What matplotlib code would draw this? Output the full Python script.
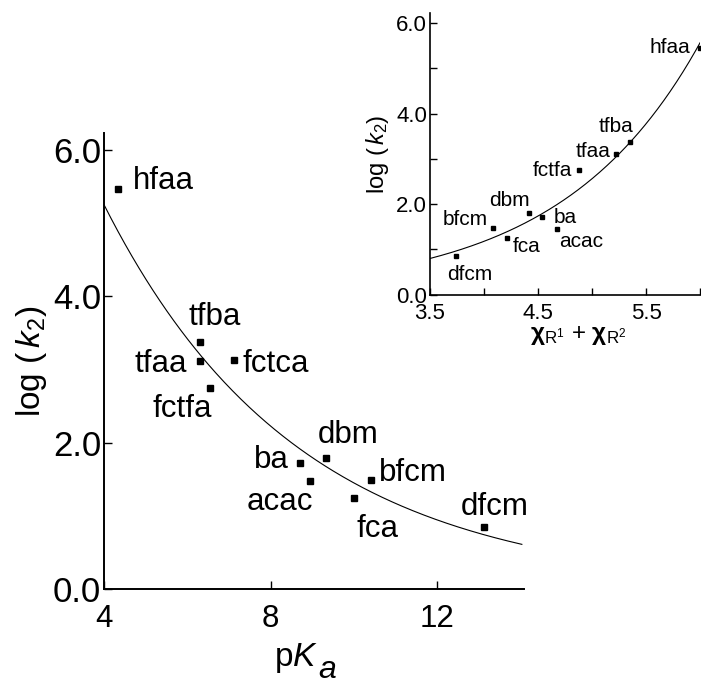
import numpy as np
import matplotlib
matplotlib.use("Agg")
import matplotlib.pyplot as plt
from matplotlib.ticker import FixedLocator, FormatStrFormatter

plt.rcParams["font.family"] = ["Liberation Sans", "DejaVu Sans"]
plt.rcParams["mathtext.fontset"] = "custom"
plt.rcParams["mathtext.rm"] = "Liberation Sans"
plt.rcParams["mathtext.it"] = "Liberation Sans:italic"
plt.rcParams["mathtext.bf"] = "Liberation Sans:bold"

# ---- data: main panel (log k2 vs pKa) ----
main_names = ["hfaa", "tfba", "tfaa", "fctca", "fctfa", "ba", "dbm", "acac",
              "bfcm", "fca", "dfcm"]
main_pka = [4.34, 6.30, 6.30, 7.12, 6.54, 8.70, 9.34, 8.94, 10.41, 10.01, 13.12]
main_logk2 = [5.46, 3.38, 3.12, 3.13, 2.75, 1.72, 1.79, 1.47, 1.49, 1.25, 0.85]

# exponential fit y = A * exp(-b * (x - x0))
main_fit = {"A": 5.25, "b": 0.2146, "x0": 4.0}

# ---- data: inset (log k2 vs electronegativity sum) ----
inset_names = ["hfaa", "tfba", "tfaa", "fctfa", "ba", "dbm", "acac", "bfcm",
               "fca", "dfcm"]
inset_chi = [6.00, 5.35, 5.22, 4.88, 4.54, 4.42, 4.68, 4.08, 4.21, 3.74]
inset_logk2 = [5.46, 3.38, 3.12, 2.76, 1.72, 1.80, 1.46, 1.48, 1.26, 0.86]

# exponential fit y = A * exp(b * (x - x0))
inset_fit = {"A": 0.80, "b": 0.776, "x0": 3.5}

main_xticks = [4, 8, 12]
main_yticks = [0.0, 2.0, 4.0, 6.0]
inset_xticks = [3.5, 4.5, 5.5]
inset_xminor = [4.0, 5.0, 6.0]
inset_yticks = [0.0, 2.0, 4.0, 6.0]
inset_yminor = [1.0, 3.0, 5.0]

# label placement (offset points, horizontal alignment)
main_label_pos = {
    "hfaa": (10.8, 0.5, "left"),
    "tfba": (10.8, 12.0, "center"),
    "tfaa": (-9.4, -7.9, "right"),
    "fctca": (5.8, -8.4, "left"),
    "fctfa": (1.2, -21.2, "right"),
    "ba": (-7.9, -3.6, "right"),
    "dbm": (15.8, 10.8, "center"),
    "acac": (2.2, -20.4, "right"),
    "bfcm": (5.8, -0.5, "left"),
    "fca": (1.4, -28.1, "left"),
    "dfcm": (7.9, 8.4, "center"),
}
inset_label_pos = {
    "hfaa": (-7.2, -3.6, "right"),
    "tfba": (-9.6, 6.8, "center"),
    "tfaa": (-4.1, -2.4, "right"),
    "fctfa": (-5.3, -4.8, "right"),
    "dbm": (0.0, 5.3, "right"),
    "ba": (8.1, -4.5, "left"),
    "acac": (1.4, -13.0, "left"),
    "bfcm": (-3.2, 1.9, "right"),
    "fca": (4.3, -10.5, "left"),
    "dfcm": (10.1, -17.3, "center"),
}

fig = plt.figure(figsize=(7.01, 6.88), dpi=100)


def style_axes(ax, lw):
    for side in ("top", "right"):
        ax.spines[side].set_visible(False)
    for side in ("left", "bottom"):
        ax.spines[side].set_linewidth(lw)
        ax.spines[side].set_color("black")


# ---- main panel ----
ax = fig.add_axes([0.1484, 0.1439, 0.599, 0.6628])
style_axes(ax, 1.4)
ax.set_xlim(4, 14.08)
ax.set_ylim(0, 6.23)

xs = np.linspace(4, 14.03, 300)
ax.plot(xs, main_fit["A"] * np.exp(-main_fit["b"] * (xs - main_fit["x0"])),
        color="black", lw=0.8)
ax.plot(main_pka, main_logk2, ls="none", marker="s", ms=4.6, color="black",
        clip_on=False)
for name, x, y in zip(main_names, main_pka, main_logk2):
    dx, dy, ha = main_label_pos[name]
    ax.annotate(name, (x, y), xytext=(dx, dy), textcoords="offset points",
                ha=ha, va="baseline", fontsize=22.5)

ax.xaxis.set_major_locator(FixedLocator(main_xticks))
ax.yaxis.set_major_locator(FixedLocator(main_yticks))
ax.yaxis.set_major_formatter(FormatStrFormatter("%.1f"))
ax.tick_params(direction="in", length=6, width=1.0)
ax.tick_params(axis="y", pad=2, labelsize=25)
ax.tick_params(axis="x", pad=11, labelsize=22.5)
# axis titles: "pK" as the x label, the italic subscript "a" set beside it
ax.set_xlabel(r"p$K$", fontsize=24, labelpad=8)
ax.xaxis.set_label_coords(0.458, -0.115)
fig.text(0.4537, 0.014, "a", fontsize=23, style="italic",
         ha="left", va="baseline")
ax.set_ylabel(r"log ($\,k_{\mathrm{2}}$)", fontsize=24, labelpad=3)

# ---- inset ----
ins = fig.add_axes([0.6134, 0.5717, 0.3852, 0.409])
style_axes(ins, 1.2)
ins.set_xlim(3.5, 6.0)
ins.set_ylim(0, 6.22)

xi = np.linspace(3.5, 6.0, 300)
ins.plot(xi, inset_fit["A"] * np.exp(inset_fit["b"] * (xi - inset_fit["x0"])),
         color="black", lw=0.8)
ins.plot(inset_chi, inset_logk2, ls="none", marker="s", ms=3.0, color="black",
         clip_on=False)
for name, x, y in zip(inset_names, inset_chi, inset_logk2):
    dx, dy, ha = inset_label_pos[name]
    ins.annotate(name, (x, y), xytext=(dx, dy), textcoords="offset points",
                 ha=ha, va="baseline", fontsize=15)

ins.xaxis.set_major_locator(FixedLocator(inset_xticks))
ins.xaxis.set_minor_locator(FixedLocator(inset_xminor))
ins.yaxis.set_major_locator(FixedLocator(inset_yticks))
ins.yaxis.set_minor_locator(FixedLocator(inset_yminor))
ins.yaxis.set_major_formatter(FormatStrFormatter("%.1f"))
ins.xaxis.set_major_formatter(FormatStrFormatter("%.1f"))
ins.tick_params(which="both", direction="in", length=5, width=1.0,
                labelsize=16)
ins.tick_params(axis="y", pad=2)
ins.tick_params(axis="x", pad=6)
ins.set_xlabel(r"$\mathbf{\chi}_{\mathrm{R}^1}$ + $\mathbf{\chi}_{\mathrm{R}^2}$",
               fontsize=17.5, labelpad=4)
ins.set_ylabel(r"log ($\,k_{\mathrm{2}}$)", fontsize=17, labelpad=4)
ins.xaxis.set_label_coords(0.548, -0.105)

fig.savefig("out.png", dpi=100)
